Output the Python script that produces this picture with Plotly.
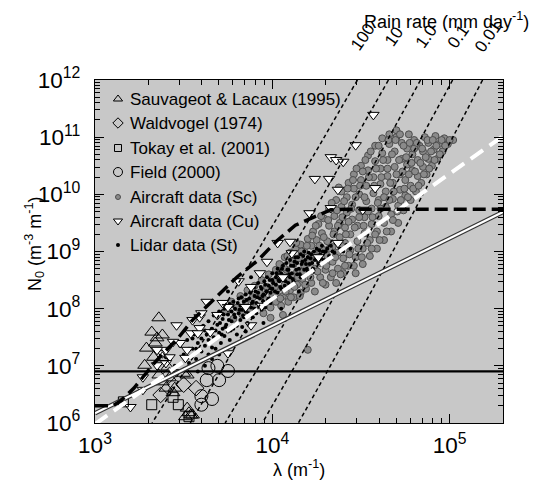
import math
import plotly.graph_objects as go

FONT = "Liberation Sans, Arial, Helvetica, sans-serif"

# ---------------- data (log10 values) ----------------
# Sauvageot & Lacaux (1995)
sl_log_lam = [3.36, 3.32, 3.35, 3.38, 3.29, 3.34, 3.33, 3.38, 3.28, 3.41, 3.36, 3.50,
              3.52, 3.42, 3.38, 3.40, 3.45, 3.44, 3.52, 3.54, 3.51, 3.55, 3.53]
sl_log_n0 = [7.84, 7.59, 7.49, 7.54, 7.31, 7.40, 7.15, 7.14, 7.01, 6.98, 6.84, 6.87,
             6.84, 6.79, 6.72, 6.61, 6.61, 6.53, 6.26, 6.14, 6.11, 6.14, 6.18]
# Waldvogel (1974)
wv_log_lam = [3.50, 3.57, 3.42, 3.37]
wv_log_n0 = [6.67, 6.61, 6.84, 6.49]
# Tokay et al. (2001)
tk_log_lam = [3.16, 3.32, 3.47, 3.53, 3.44]
tk_log_n0 = [6.37, 6.32, 6.32, 6.11, 6.45]
# Field (2000)
fd_log_lam = [3.64, 3.69, 3.75, 3.63, 3.70, 3.60, 3.66, 3.60]
fd_log_n0 = [6.96, 7.00, 6.91, 6.75, 6.75, 6.47, 6.42, 6.32]
# Aircraft data (Cu)
cu_log_lam = [4.57, 4.47, 4.33, 4.36, 4.40, 4.24, 4.32, 4.37, 4.21, 4.33,
              4.51, 4.58, 4.37, 4.10, 4.11, 4.03, 3.97, 3.93, 3.81, 3.88,
              4.06, 3.85, 4.26, 3.94, 3.88, 3.72, 3.63, 3.69, 3.55, 3.59,
              3.48, 3.52, 3.38, 3.42, 3.35, 3.46, 3.27, 3.27, 3.20, 3.40,
              3.54, 3.75, 3.65, 3.59, 3.44, 3.51, 3.46, 3.60, 3.75, 3.58,
              3.35, 3.40]
cu_log_n0 = [11.39, 10.86, 10.65, 10.60, 10.57, 10.27, 10.27, 10.08, 9.67, 9.76,
             9.73, 10.11, 9.15, 9.17, 8.97, 9.15, 8.82, 8.62, 8.48, 8.38,
             8.55, 8.03, 8.90, 8.05, 7.71, 8.10, 8.12, 7.89, 7.80, 7.66,
             7.40, 7.28, 7.22, 7.15, 7.01, 6.89, 6.80, 6.58, 6.28, 7.28,
             7.57, 7.22, 7.59, 7.85, 7.42, 7.14, 7.71, 7.92, 8.03, 7.57,
             7.28, 7.05]
# Aircraft data (Sc)
sc_log_lam = [3.74, 3.77, 3.78, 3.80, 3.82, 3.83, 3.85, 3.86, 3.87, 3.89, 3.90, 3.91,
              3.93, 3.94, 3.95, 3.96, 3.97, 3.98, 3.99, 4.00, 4.01, 4.02, 4.02,
              4.03, 4.04, 4.05, 4.05, 4.06, 4.07, 4.07, 4.08, 4.09, 4.10, 4.10, 4.11,
              4.12, 4.12, 4.13, 4.14, 4.14, 4.15, 4.16, 4.16, 4.17, 4.18, 4.18, 4.19,
              4.20, 4.20, 4.21, 4.22, 4.22, 4.23, 4.24, 4.24,
              4.25, 4.25, 4.26, 4.27, 4.27, 4.28, 4.28, 4.29, 4.30, 4.30, 4.31, 4.31,
              4.32, 4.32, 4.33, 4.34, 4.34, 4.35, 4.35, 4.36, 4.36, 4.37, 4.37, 4.38,
              4.38, 4.39, 4.39, 4.40, 4.40, 4.41, 4.41, 4.42, 4.42, 4.43, 4.43,
              4.44, 4.44, 4.45, 4.45, 4.46, 4.46, 4.47, 4.47, 4.48, 4.48, 4.49, 4.49,
              4.50, 4.50, 4.51, 4.51, 4.52, 4.52, 4.53, 4.53, 4.54, 4.54, 4.55, 4.55,
              4.56, 4.56, 4.57, 4.57, 4.58, 4.58, 4.59, 4.59, 4.60, 4.60, 4.61, 4.61,
              4.62, 4.62,
              4.63, 4.63, 4.64, 4.64, 4.65, 4.65, 4.66, 4.66, 4.67, 4.67, 4.68, 4.68,
              4.69, 4.69, 4.70, 4.70, 4.71, 4.71, 4.72, 4.72, 4.73, 4.73, 4.74, 4.75,
              4.75, 4.76, 4.76, 4.77, 4.78, 4.78, 4.79, 4.79, 4.80,
              4.81, 4.82, 4.82, 4.83, 4.84, 4.85, 4.85, 4.86, 4.87, 4.88, 4.88, 4.90,
              4.91, 4.92, 4.93, 4.94, 4.96, 4.97, 4.99, 5.02,
              3.99, 4.06, 4.20,
              4.015, 4.035, 4.045, 4.065, 4.075, 4.085, 4.095, 4.105, 4.115, 4.125, 4.135,
              4.145, 4.155, 4.165, 4.175, 4.185, 4.195, 4.205, 4.215, 4.225, 4.235, 4.245,
              4.255, 4.265, 4.275, 4.285, 4.29, 4.305, 4.315, 4.32, 4.335, 4.34, 4.345,
              4.355, 4.365, 4.37, 4.375, 4.385, 4.39, 4.395, 4.405, 4.41, 4.415, 4.425,
              4.43, 4.435, 4.445,
              4.455, 4.46, 4.465, 4.47, 4.475, 4.485, 4.49, 4.495, 4.505, 4.51, 4.515,
              4.52, 4.525, 4.535, 4.54, 4.545, 4.555, 4.56, 4.565, 4.575, 4.58, 4.585,
              4.595, 4.60, 4.605, 4.61, 4.615, 4.625, 4.63,
              4.645, 4.65, 4.655, 4.66, 4.665, 4.675, 4.68, 4.685, 4.695, 4.70, 4.705,
              4.715, 4.72, 4.725, 4.735, 4.74, 4.745, 4.755, 4.765, 4.77, 4.775, 4.785,
              4.795, 4.80, 4.805, 4.815, 4.825, 4.835, 4.845,
              4.855, 4.865, 4.875, 4.885, 4.895, 4.905, 4.915, 4.925, 4.945, 4.955,
              4.975, 5.00]
sc_log_n0 = [7.95, 8.12, 7.82, 8.02, 8.22, 7.90, 8.12, 8.32, 7.98, 8.20, 8.40, 8.05,
             8.28, 8.50, 7.92, 8.15, 8.38, 8.60, 8.02, 8.25, 8.48, 8.68, 8.12,
             8.35, 8.78, 8.55, 8.05, 8.22, 8.90, 8.42, 8.68, 8.12, 8.32, 8.98, 8.55,
             8.78, 8.20, 9.05, 8.42, 8.65, 8.88, 8.28, 9.12, 8.52, 8.75, 9.00, 8.35,
             9.22, 8.62, 8.88, 8.45, 9.10, 9.35, 8.70, 8.30,
             8.95, 9.20, 9.48, 8.55, 8.80, 9.05, 9.32, 9.58, 8.42, 8.68, 8.92, 9.18,
             9.45, 9.75, 8.55, 8.82, 9.08, 9.35, 9.62, 9.90, 8.45, 8.70, 8.98, 9.25,
             9.50, 9.78, 10.05, 8.62, 8.88, 9.15, 9.42, 9.68, 9.95, 10.20, 8.75,
             9.02, 9.30, 9.56, 9.82, 10.10, 10.35, 8.62, 8.90, 9.18, 9.45, 9.72, 10.00,
             10.25, 10.50, 8.78, 9.05, 9.32, 9.60, 9.88, 10.15, 10.42, 10.68, 8.92, 9.20,
             9.48, 9.75, 10.02, 10.30, 10.58, 10.85, 9.05, 9.35, 9.62, 9.90, 10.18, 10.45,
             10.72, 10.98,
             9.20, 9.50, 9.78, 10.05, 10.32, 10.60, 10.88, 11.05, 9.35, 9.65, 9.92, 10.20,
             10.48, 10.75, 11.00, 11.12, 9.50, 9.80, 10.08, 10.35, 10.62, 10.90, 9.72, 9.98,
             10.25, 10.52, 10.80, 11.05, 9.90, 10.15, 10.42, 10.70, 10.95,
             10.05, 10.32, 10.60, 10.85, 10.20, 10.48, 10.75, 11.00, 10.35, 10.62, 10.90, 10.50,
             10.78, 11.02, 10.62, 10.88, 10.75, 10.98, 10.88, 10.95,
             7.84, 7.89, 7.28,
             8.38, 8.60, 8.18, 8.72, 8.30, 8.92, 8.50, 8.20, 8.82, 8.38, 9.15,
             8.55, 8.22, 9.00, 8.65, 8.42, 9.10, 8.80, 8.55, 9.28, 8.95, 9.45,
             8.65, 9.10, 9.62, 8.45, 9.25, 8.75, 9.55, 9.05, 9.85, 8.62, 9.30,
             8.90, 9.72, 9.45, 10.12, 8.60, 9.10, 9.60, 9.88, 8.75, 9.30, 10.10,
             9.52, 8.95, 9.75,
             10.25, 8.75, 9.42, 9.95, 10.45, 9.05, 9.60, 10.15, 8.90, 10.40, 9.45,
             9.95, 10.60, 9.15, 9.70, 10.30, 10.75, 9.05, 9.60, 10.15, 9.30, 10.45,
             9.85, 10.85, 9.20, 9.75, 10.30, 10.60, 9.95,
             9.35, 10.45, 10.95, 9.90, 10.20, 10.70, 9.55, 10.05, 10.95, 10.35, 9.70,
             10.60, 11.05, 9.90, 10.40, 10.85, 10.10, 10.65, 9.95, 10.35, 10.90, 10.55,
             10.10, 10.80, 10.40, 10.90, 10.15, 10.55, 10.80,
             10.35, 10.65, 10.95, 10.45, 10.75, 10.95, 10.60, 10.85, 10.70, 10.95,
             10.85, 10.95]
# Lidar data (St)
li_log_lam = [3.50, 3.52, 3.53, 3.55, 3.56, 3.57, 3.58, 3.59, 3.60, 3.60,
              3.61, 3.62, 3.63, 3.64, 3.64, 3.65, 3.66, 3.67, 3.67, 3.68, 3.69, 3.70, 3.70,
              3.71, 3.72, 3.72, 3.73, 3.73, 3.74, 3.75, 3.75, 3.76, 3.76, 3.77, 3.77,
              3.78, 3.78, 3.79, 3.79, 3.80, 3.80,
              3.81, 3.81, 3.82, 3.82, 3.83, 3.83, 3.84, 3.84, 3.85, 3.85, 3.86, 3.86,
              3.87, 3.87, 3.88, 3.88, 3.89, 3.89, 3.90, 3.90, 3.90,
              3.91, 3.91, 3.92, 3.92, 3.93, 3.93, 3.94, 3.94, 3.95, 3.95, 3.96, 3.96,
              3.97, 3.97, 3.98, 3.98, 3.99, 3.99, 4.00, 4.00, 4.00,
              4.01, 4.02, 4.02, 4.03, 4.03, 4.04, 4.05, 4.05, 4.06, 4.06, 4.07, 4.08,
              4.08, 4.09, 4.09, 4.10, 4.10,
              4.11, 4.12, 4.12, 4.13, 4.14, 4.14, 4.15, 4.16, 4.16, 4.17, 4.18, 4.18,
              4.19, 4.20, 4.20,
              4.21, 4.22, 4.23, 4.24, 4.25, 4.26, 4.27, 4.28, 4.29, 4.30,
              4.32, 4.33, 4.35, 4.36, 4.38, 4.40, 4.42, 4.44,
              3.45, 3.48, 3.40, 3.62, 3.70, 3.85, 3.95, 4.05, 3.58, 4.15, 3.75, 3.88,
              3.705, 3.715, 3.725, 3.735, 3.745, 3.755, 3.765, 3.775, 3.785, 3.795,
              3.805, 3.815, 3.825, 3.835, 3.845, 3.855, 3.865, 3.875, 3.885, 3.895,
              3.905, 3.915, 3.925, 3.935, 3.945, 3.955, 3.965, 3.975, 3.985, 3.995,
              4.005, 4.015, 4.025, 4.035, 4.045, 4.055, 4.065, 4.075, 4.085, 4.095,
              4.105, 4.115, 4.125, 4.135, 4.145, 4.155, 4.165, 4.175, 4.185, 4.195,
              4.205, 4.215, 4.225, 4.235, 4.245, 4.255, 4.265, 4.275, 4.285, 4.31,
              4.34, 3.62, 3.64, 3.66, 3.68, 3.57, 3.55, 3.53, 3.60, 3.66]
li_log_n0 = [7.20, 7.45, 7.05, 7.30, 7.55, 7.12, 7.40, 7.62, 7.25, 7.48,
             7.70, 7.35, 7.55, 7.78, 7.20, 7.42, 7.65, 7.88, 7.50, 7.30, 7.72, 7.58, 7.95,
             7.40, 7.65, 7.82, 8.00, 7.52, 7.72, 7.90, 7.60, 8.08, 7.45, 7.78, 7.95,
             7.65, 8.12, 7.85, 8.00, 7.70, 7.55,
             7.92, 8.18, 7.80, 8.05, 7.68, 7.98, 8.12, 7.85, 8.25, 7.95, 8.05, 7.75,
             8.18, 7.90, 8.30, 8.02, 8.12, 7.85, 8.22, 8.00, 8.38,
             8.10, 7.92, 8.28, 8.45, 8.05, 8.18, 8.35, 7.98, 8.25, 8.12, 8.42, 8.02,
             8.30, 8.55, 8.18, 8.40, 8.10, 8.28, 8.50, 8.35, 8.62,
             8.20, 8.42, 8.55, 8.28, 8.70, 8.48, 8.35, 8.62, 8.75, 8.50, 8.40, 8.58,
             8.80, 8.45, 8.68, 8.55, 8.85,
             8.62, 8.48, 8.75, 8.90, 8.60, 8.80, 8.70, 8.95, 8.55, 8.82, 8.68, 9.00,
             8.78, 8.90, 8.65,
             8.78, 8.95, 8.70, 8.85, 9.05, 8.80, 8.95, 9.10, 8.85, 9.00,
             8.92, 9.10, 8.98, 9.15, 9.05, 9.00, 9.12, 9.05,
             7.00, 7.35, 7.15, 7.00, 7.20, 7.60, 7.75, 8.00, 6.90, 8.30, 8.30, 8.55,
             7.75, 7.55, 7.90, 7.68, 8.02, 7.80, 7.62, 8.05, 7.90, 7.72,
             8.10, 7.98, 8.20, 7.88, 8.02, 8.15, 7.92, 8.28, 8.10, 7.95,
             8.30, 8.20, 8.05, 8.38, 8.22, 8.48, 8.30, 8.15, 8.50, 8.35,
             8.45, 8.30, 8.62, 8.50, 8.38, 8.70, 8.58, 8.48, 8.68, 8.60,
             8.75, 8.52, 8.82, 8.68, 8.90, 8.60, 8.78, 8.92, 8.85, 8.70,
             8.98, 8.88, 8.80, 9.00, 8.92, 8.85, 9.02, 8.88, 9.00, 9.05,
             9.00, 7.62, 7.45, 7.32, 7.62, 7.30, 7.48, 7.30, 7.08, 7.12]

# Relations drawn as lines (log10 end points)
wsolid_log_lam = [3.0, 5.301]
wsolid_log_n0 = [6.17, 9.69]
wdash_log_lam = [3.0, 5.301]
wdash_log_n0 = [5.98, 11.02]
bdash_log_lam = [3.0, 3.10, 3.15, 3.22, 3.34, 3.47, 3.55, 3.67, 3.80, 3.92, 4.02,
                 4.13, 4.23, 4.33, 4.41, 5.301]
bdash_log_n0 = [6.30, 6.30, 6.40, 6.61, 7.07, 7.49, 7.80, 8.15, 8.55, 8.85, 9.17,
                9.46, 9.60, 9.73, 9.74, 9.74]
mp_n0 = 8.0e6            # Marshall-Palmer N0
lam_range = [1.0e3, 2.0e5]

# Lines of constant rain rate: lambda (log10) where each crosses N0 = 1e12, 10^8.5, 1e6
rr_labels = ["100", "10", "1.0", "0.1", "0.01"]
rr_log_n0_levels = [12.0, 8.5, 6.0]
rr_top_log_lam = [4.480, 4.655, 4.836, 5.017, 5.186]
rr_mid_log_lam = [3.819, 4.011, 4.209, 4.401, 4.593]
rr_bot_log_lam = [3.322, 3.537, 3.734, 3.944, 4.147]

legend_names = ["Sauvageot &amp; Lacaux (1995)", "Waldvogel (1974)", "Tokay et al. (2001)",
                "Field (2000)", "Aircraft data (Sc)", "Aircraft data (Cu)", "Lidar data (St)"]


def pw(vals):
    return [10.0 ** v for v in vals]


fig = go.Figure()

sc_marker = dict(symbol="circle", size=7, color="#8a8a8a", line=dict(color="#4d4d4d", width=1))
li_marker = dict(symbol="circle", size=4, color="black", line=dict(width=0))
cu_marker = dict(symbol="triangle-down", size=10, color="white", line=dict(color="black", width=1))
sl_marker = dict(symbol="triangle-up-open", size=12, color="black", line=dict(color="black", width=1))
wv_marker = dict(symbol="diamond-open", size=12, color="black", line=dict(color="black", width=1))
tk_marker = dict(symbol="square-open", size=10, color="black", line=dict(color="black", width=1))
fd_marker = dict(symbol="circle-open", size=13, color="black", line=dict(color="black", width=1))

fig.add_trace(go.Scatter(x=pw(sc_log_lam), y=pw(sc_log_n0), mode="markers", marker=sc_marker,
                         name="Aircraft data (Sc)", showlegend=False))
fig.add_trace(go.Scatter(x=pw(li_log_lam), y=pw(li_log_n0), mode="markers", marker=li_marker,
                         name="Lidar data (St)", showlegend=False))
fig.add_trace(go.Scatter(x=pw(cu_log_lam), y=pw(cu_log_n0), mode="markers", marker=cu_marker,
                         name="Aircraft data (Cu)", showlegend=False))
fig.add_trace(go.Scatter(x=pw(sl_log_lam), y=pw(sl_log_n0), mode="markers", marker=sl_marker,
                         name="Sauvageot & Lacaux (1995)", showlegend=False))
fig.add_trace(go.Scatter(x=pw(wv_log_lam), y=pw(wv_log_n0), mode="markers", marker=wv_marker,
                         name="Waldvogel (1974)", showlegend=False))
fig.add_trace(go.Scatter(x=pw(tk_log_lam), y=pw(tk_log_n0), mode="markers", marker=tk_marker,
                         name="Tokay et al. (2001)", showlegend=False))
fig.add_trace(go.Scatter(x=pw(fd_log_lam), y=pw(fd_log_n0), mode="markers", marker=fd_marker,
                         name="Field (2000)", showlegend=False))

# constant rain-rate lines
for i, lab in enumerate(rr_labels):
    xs = pw([rr_top_log_lam[i], rr_mid_log_lam[i], rr_bot_log_lam[i]])
    fig.add_trace(go.Scatter(x=xs, y=pw(rr_log_n0_levels), mode="lines",
                             line=dict(color="black", width=1.5, dash="4px,3px", shape="spline"),
                             showlegend=False, hoverinfo="skip"))

# Marshall-Palmer line
fig.add_trace(go.Scatter(x=lam_range, y=[mp_n0, mp_n0], mode="lines",
                         line=dict(color="black", width=2.2), showlegend=False))
# white solid line with dark edges
fig.add_trace(go.Scatter(x=pw(wsolid_log_lam), y=pw(wsolid_log_n0), mode="lines",
                         line=dict(color="#333333", width=4.5), showlegend=False))
fig.add_trace(go.Scatter(x=pw(wsolid_log_lam), y=pw(wsolid_log_n0), mode="lines",
                         line=dict(color="white", width=2.2), showlegend=False))
# white dashed fit
fig.add_trace(go.Scatter(x=pw(wdash_log_lam), y=pw(wdash_log_n0), mode="lines",
                         line=dict(color="white", width=4, dash="15px,8px"), showlegend=False))
# black long-dashed relation
fig.add_trace(go.Scatter(x=pw(bdash_log_lam), y=pw(bdash_log_n0), mode="lines",
                         line=dict(color="black", width=3.5, dash="13px,6px"), showlegend=False))

# ---- layout geometry (page has an 8px body margin, so offsets are shifted) ----
PAGE_OFF = 8
W, H = 540, 480
L, R, T, B = 95, 503, 80, 423          # plot frame in screenshot pixels
ml, mt = L - PAGE_OFF, T - PAGE_OFF
mr = W - ml - (R - L)
mb = H - mt - (B - T)

# ---- custom legend (inside plot, top-left) on an overlay [0,1] axis pair ----
leg_y_px = [99, 123, 148, 172, 197, 221, 245]
leg_sym_x = (118 - L) / (R - L)
leg_txt_x = (128 - L) / (R - L)
leg_y = [(B - y) / (B - T) for y in leg_y_px]
leg_markers = [
    dict(symbol="triangle-up-open", size=8, color="black", line=dict(color="black", width=1)),
    dict(symbol="diamond-open", size=8, color="black", line=dict(color="black", width=1)),
    dict(symbol="square-open", size=7, color="black", line=dict(color="black", width=1)),
    dict(symbol="circle-open", size=9, color="black", line=dict(color="black", width=1)),
    dict(symbol="circle", size=5, color="#8a8a8a", line=dict(color="#4d4d4d", width=1)),
    dict(symbol="triangle-down", size=8, color="white", line=dict(color="black", width=1)),
    dict(symbol="circle", size=4, color="black", line=dict(width=0)),
]
for yv, mk in zip(leg_y, leg_markers):
    fig.add_trace(go.Scatter(x=[leg_sym_x], y=[yv], mode="markers", marker=mk,
                             xaxis="x2", yaxis="y2", showlegend=False, hoverinfo="skip"))

annotations = []
for yv, name in zip(leg_y, legend_names):
    annotations.append(dict(x=leg_txt_x, y=yv, xref="paper", yref="paper", text=name,
                            showarrow=False, xanchor="left", yanchor="middle",
                            font=dict(family=FONT, size=17, color="black")))

# rain-rate labels along the top
for lab, xl in zip(rr_labels, rr_top_log_lam):
    annotations.append(dict(x=xl, y=(B - 37) / (B - T), xref="x", yref="paper", text=lab,
                            showarrow=False, textangle=-55, xanchor="center", yanchor="middle",
                            xshift=6, font=dict(family=FONT, size=17, color="black")))
annotations.append(dict(x=(446 - L) / (R - L), y=(B - 21) / (B - T), xref="paper", yref="paper",
                        text="Rain rate (mm day<sup>-1</sup>)", showarrow=False,
                        xanchor="center", yanchor="middle",
                        font=dict(family=FONT, size=18, color="black")))
# axis titles
annotations.append(dict(x=0.5, y=(B - 468) / (B - T), xref="paper", yref="paper",
                        text="λ (m<sup>-1</sup>)", showarrow=False, xanchor="center",
                        yanchor="middle", font=dict(family=FONT, size=18, color="black")))
annotations.append(dict(x=(34 - L) / (R - L), y=(B - 244) / (B - T), xref="paper", yref="paper",
                        text="N<sub>0</sub> (m<sup>-3</sup> m<sup>-1</sup>)", showarrow=False,
                        textangle=-90, xanchor="center", yanchor="middle",
                        font=dict(family=FONT, size=18, color="black")))

axis_common = dict(
    type="log", dtick=1, exponentformat="power", showexponent="all",
    ticks="inside", ticklen=9, tickwidth=1, tickcolor="black",
    minor=dict(ticks="inside", ticklen=5, tickwidth=1, tickcolor="black", dtick="D1", showgrid=False),
    mirror="allticks", showline=True, linecolor="black", linewidth=1.2,
    showgrid=False, zeroline=False, automargin=False,
    tickfont=dict(family=FONT, size=18, color="black"),
)

fig.update_layout(
    width=W, height=H,
    margin=dict(l=ml, r=mr, t=mt, b=mb, autoexpand=False),
    paper_bgcolor="white", plot_bgcolor="#c8c8c8",
    showlegend=False,
    xaxis=dict(range=[3, math.log10(2e5)], ticklabelstandoff=3, **axis_common),
    yaxis=dict(range=[6, 12], ticklabelstandoff=10, **axis_common),
    xaxis2=dict(overlaying="x", range=[0, 1], visible=False),
    yaxis2=dict(overlaying="y", range=[0, 1], visible=False),
    annotations=annotations,
    font=dict(family=FONT, color="black"),
)

fig.write_html("out.html")
